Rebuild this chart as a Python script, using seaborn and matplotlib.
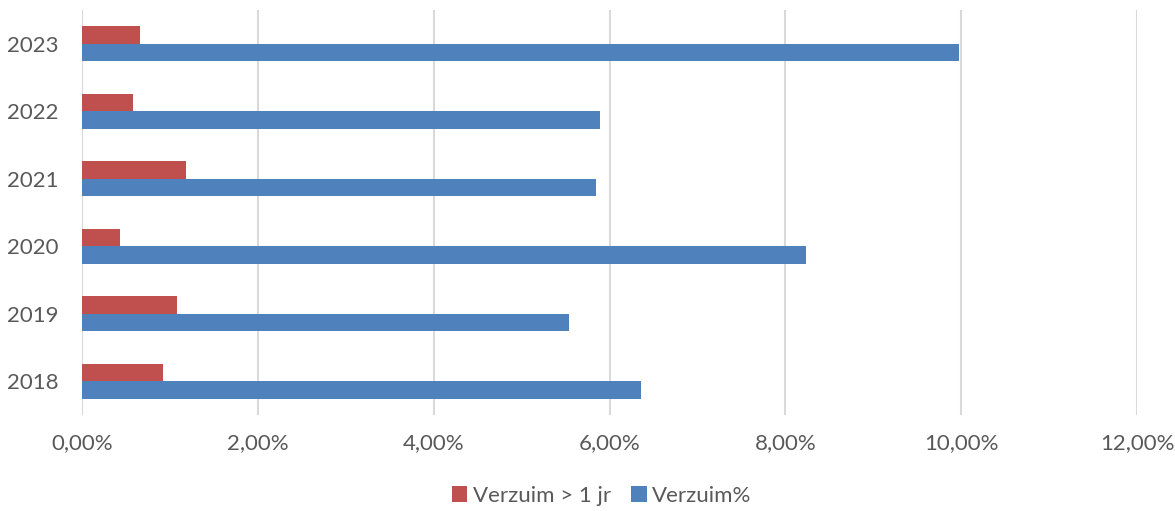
import pandas as pd
import matplotlib.pyplot as plt
import seaborn as sns
from matplotlib.ticker import FuncFormatter, MultipleLocator

years = ['2023', '2022', '2021', '2020', '2019', '2018']
verzuim_lang = [0.66, 0.58, 1.18, 0.43, 1.08, 0.92]
verzuim_pct = [9.97, 5.89, 5.85, 8.24, 5.54, 6.36]
series_names = ['Verzuim > 1 jr', 'Verzuim%']
colors = ['#C0504D', '#4F81BD']

df = pd.DataFrame({
    'year': years * 2,
    'value': verzuim_lang + verzuim_pct,
    'series': [series_names[0]] * len(years) + [series_names[1]] * len(years),
})

sns.set_style('white')
plt.rcParams['font.family'] = ['Lato', 'DejaVu Sans']
text_color = '#595959'

fig = plt.figure(figsize=(11.75, 5.11), dpi=100)
ax = fig.add_axes([82 / 1175, 1 - 415 / 511, (1137 - 82) / 1175, (415 - 10) / 511])

sns.barplot(data=df, x='value', y='year', hue='series', order=years, hue_order=series_names,
            palette=colors, orient='h', width=0.52, ax=ax, saturation=1,
            edgecolor='none', linewidth=0, legend=True)

ax.set_xlim(0, 12)
ax.xaxis.set_major_locator(MultipleLocator(2))
ax.xaxis.set_major_formatter(FuncFormatter(lambda v, p: f'{v:.2f}%'.replace('.', ',')))
ax.grid(axis='x', color='#D9D9D9', linewidth=1.5)
ax.set_axisbelow(True)
for s in ax.spines.values():
    s.set_visible(False)
ax.set_xlabel('')
ax.set_ylabel('')
ax.tick_params(axis='both', length=0, labelsize=16, labelcolor=text_color)
ax.tick_params(axis='x', pad=13)
ax.tick_params(axis='y', pad=17)

handles, labels = ax.get_legend_handles_labels()
ax.legend_.remove()
fig.legend(handles, labels, loc='center', bbox_to_anchor=(0.512, 1 - 496 / 511), ncol=2,
           frameon=False, fontsize=16, handlelength=0.7, handleheight=0.7,
           handletextpad=0.25, columnspacing=0.9, labelcolor=text_color)

fig.savefig('out.png', dpi=100)
